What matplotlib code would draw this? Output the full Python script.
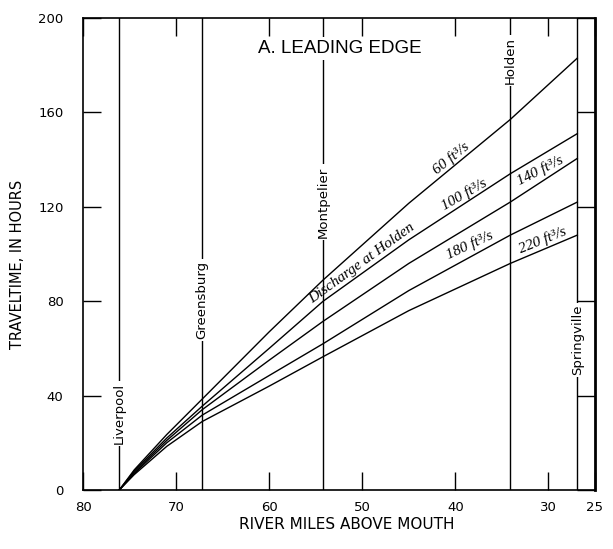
import numpy as np
import matplotlib
matplotlib.use("Agg")
import matplotlib.pyplot as plt

# river miles where travel times were read
miles = [76.1, 74.5, 71.0, 67.2, 60.0, 54.2, 45.0, 34.1, 26.9]

# travel time of the leading edge (hours) for each discharge at Holden
t_60 = [0, 8.5, 23.5, 38.5, 67, 89, 121.5, 157, 183]
t_100 = [0, 8, 22, 35.5, 60, 80, 106, 134, 151]
t_140 = [0, 7.5, 21, 34, 55, 71.5, 96, 122, 140.5]
t_180 = [0, 7, 20, 31.7, 48.5, 62, 84.5, 108, 122]
t_220 = [0, 6.5, 18.5, 29, 44, 56.5, 76, 96, 108]

# gaging stations / towns along the river
places = ["Liverpool", "Greensburg", "Montpelier", "Holden", "Springville"]
place_miles = [76.1, 67.2, 54.2, 34.1, 26.9]
place_label_y = [32.5, 80.5, 122, 182, 63.5]

x_ticks = [80, 70, 60, 50, 40, 30, 25]
y_ticks = [0, 40, 80, 120, 160, 200]

fig = plt.figure(figsize=(6.13, 5.49), dpi=100)
ax = fig.add_axes([0.1354, 0.1075, 0.8352, 0.8597])

for t in [t_60, t_100, t_140, t_180, t_220]:
    ax.plot(miles, t, color="black", lw=1.0, zorder=3)

for name, m, ly in zip(places, place_miles, place_label_y):
    ax.axvline(m, color="black", lw=1.0, zorder=2)
    ax.text(m, ly, name, rotation=90, ha="center", va="center",
            fontsize=9.5, family="DejaVu Sans", zorder=4,
            bbox=dict(facecolor="white", edgecolor="none", pad=1.5))

# curve labels along the lines
lab_kw = dict(family="Liberation Serif", style="italic", fontsize=11,
              ha="center", va="center", rotation_mode="anchor", zorder=5)
ax.text(40.5, 140.5, "60 ft³/s", rotation=39, **lab_kw)
ax.text(50.0, 96.0, "Discharge at Holden", rotation=36, **lab_kw)
ax.text(39.1, 125.0, "100 ft³/s", rotation=30, **lab_kw)
ax.text(30.9, 135.4, "140 ft³/s", rotation=27, **lab_kw)
ax.text(38.4, 103.7, "180 ft³/s", rotation=25, **lab_kw)
ax.text(30.6, 105.8, "220 ft³/s", rotation=22, **lab_kw)

ax.text(0.502, 0.936, "A. LEADING EDGE", transform=ax.transAxes,
        ha="center", va="center", fontsize=13.5, family="Liberation Sans",
        zorder=6, bbox=dict(facecolor="white", edgecolor="none", pad=2))

ax.set_xlim(80, 25)
ax.set_ylim(0, 200)
ax.set_xticks(x_ticks)
ax.set_yticks(y_ticks)
ax.tick_params(axis="both", direction="in", length=13, width=1.0,
               top=True, right=True, labelsize=9.5)
ax.tick_params(axis="y", pad=14)
ax.tick_params(axis="x", pad=8)
for s in ax.spines.values():
    s.set_linewidth(1.2)
ax.spines["right"].set_linewidth(2.0)

ax.text(-0.127, 0.477, "TRAVELTIME, IN HOURS", transform=ax.transAxes,
        rotation=90, ha="center", va="center", fontsize=10.5,
        family="DejaVu Sans")
ax.text(0.516, -0.074, "RIVER MILES ABOVE MOUTH", transform=ax.transAxes,
        ha="center", va="center", fontsize=11, family="DejaVu Sans")

fig.savefig("out.png", dpi=100)
